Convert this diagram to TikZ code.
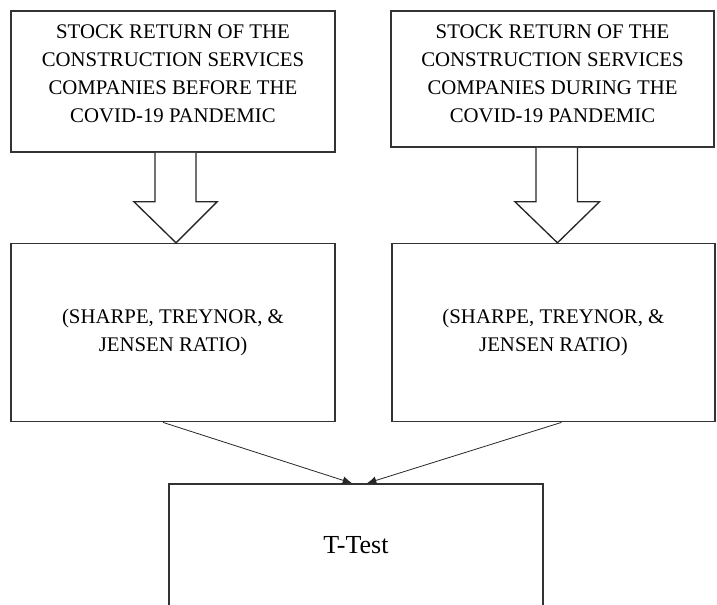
\documentclass[tikz,border=0pt]{standalone}
\usepackage{fontspec}
\setmainfont{Liberation Serif}
\usetikzlibrary{calc,positioning,arrows.meta}

\begin{document}
\begin{tikzpicture}[x=0.75pt,y=-0.75pt,>={Latex[length=7pt,width=6pt]}]
      \tikzstyle{box}=[rectangle,draw=black!80,line width=1.2pt,align=center,inner sep=0pt,font=\fontsize{15.6}{21}\selectfont]
      \tikzstyle{hollow}=[draw=black!85,line width=1pt,fill=white,line join=miter]
      \tikzstyle{link}=[->,draw=black!85,line width=.6pt]
      \useasboundingbox (0,0) rectangle (717,604);
      \node[box,minimum width=243pt,minimum height=105.75pt] (before) at (173,81.5) {STOCK RETURN OF THE\\CONSTRUCTION SERVICES\\COMPANIES BEFORE THE\\COVID-19 PANDEMIC\\[-9pt]\mbox{}};
      \node[box,minimum width=243pt,minimum height=133.5pt] (ratioL) [below=67.5pt of before] {(SHARPE, TREYNOR, \&\\JENSEN RATIO)};
      \node[box,minimum width=242.25pt,minimum height=133.5pt] (ratioR) [right=41.5pt of ratioL] {(SHARPE, TREYNOR, \&\\JENSEN RATIO)};
      \node[box,minimum width=242.25pt,minimum height=102pt] (during) at (552.5,79) {STOCK RETURN OF THE\\CONSTRUCTION SERVICES\\COMPANIES DURING THE\\COVID-19 PANDEMIC\\[-13pt]\mbox{}};
      \node[box,minimum width=280.5pt,minimum height=91.5pt,font=\fontsize{19.5}{24}\selectfont] (ttest) at (356,545) {T-Test};

      \draw[hollow] ($(before.south)+(-18,0)$) -- ++(0,49) -- ++(-21,0) -- ($(ratioL.north)+(3,0)$) -- ++(41,-41) -- ++(-21,0) -- ++(0,-49);
      \draw[hollow] ($(during.south)+(-16.5,0)$) -- ++(0,54) -- ++(-21,0) -- ($(ratioR.north)+(4,0)$) -- ++(42,-41) -- ++(-22,0) -- ++(0,-54);

      \draw[link] ($(ratioL.south)+(-10,0)$) -- ($(ttest.north)+(-4,0)$);
      \draw[link] ($(ratioR.south)+(8,0)$) -- ($(ttest.north)+(11,0)$);
\end{tikzpicture}
\end{document}
